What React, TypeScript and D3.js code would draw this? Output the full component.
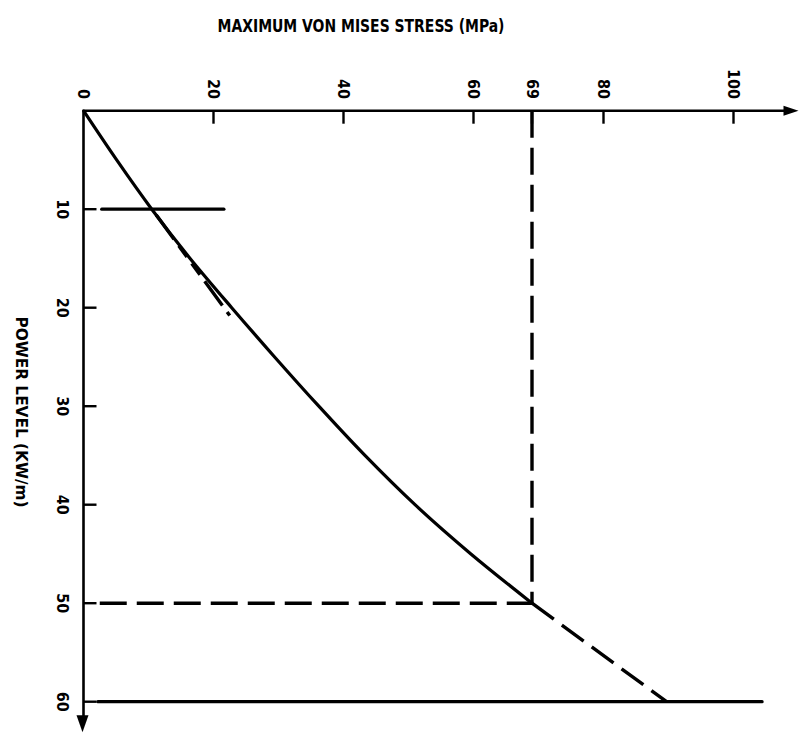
import React from "react";
import * as d3 from "d3";

// Solid curve: max von Mises stress (MPa) vs power level (kW/m)
const curvePower = [0, 5, 10, 15, 20, 25, 30, 35, 40, 45, 50];
const curveStress = [0, 5.1, 10.5, 16.4, 22.8, 29.4, 36.2, 43.3, 51.0, 59.6, 69.0];

// Short dashed line diverging from the curve
const earlyDashStress = [11.2, 22.5];
const earlyDashPower = [10.6, 20.8];

// Dashed extrapolation beyond 50 kW/m
const extrapStress = [69, 89.7];
const extrapPower = [50, 60];

// Reference lines
const limitStress = 69;
const limitPower = 50;
const limitPowerLineStress = [2.5, 69];
const line10Power = 10;
const line10Stress = [2.8, 21.6];
const line60Power = 60;
const line60Stress = [2.2, 104.4];

const xTicks = [0, 20, 40, 60, 69, 80, 100];
const yTicks = [10, 20, 30, 40, 50, 60];
const xAxisEnd = 110;
const yAxisEnd = 63.1;

const title = "MAXIMUM VON MISES  STRESS (MPa)";
const yTitle = "POWER LEVEL (KW/m)";

export default function App() {
  const x = d3.scaleLinear().domain([0, 100]).range([83.5, 733.5]);
  const y = d3.scaleLinear().domain([0, 60]).range([110.7, 701.7]);

  const line = d3
    .line<[number, number]>()
    .x((d) => x(d[0]))
    .y((d) => y(d[1]));
  const smooth = d3
    .line<[number, number]>()
    .x((d) => x(d[0]))
    .y((d) => y(d[1]))
    .curve(d3.curveCatmullRom.alpha(0.5));

  const curvePts: [number, number][] = curveStress.map((s, i) => [s, curvePower[i]]);
  const font = "'DejaVu Sans Condensed', 'DejaVu Sans', sans-serif";
  const x0 = x(0);
  const y0 = y(0);
  const xEnd = x(xAxisEnd);
  const yEnd = y(yAxisEnd);
  const dash = "27,10";

  return (
    <svg
      width={807}
      height={739}
      style={{ position: "absolute", left: 0, top: 0, background: "#fff" }}
    >
      <rect width={807} height={739} fill="#fff" />
      {/* title */}
      <text
        x={361}
        y={32}
        textAnchor="middle"
        fontFamily={font}
        fontWeight="bold"
        fontSize={17}
        textLength={287}
        lengthAdjust="spacingAndGlyphs"
        fill="#000"
      >
        {title}
      </text>
      {/* y title */}
      <text
        transform={`translate(21,412) rotate(90)`}
        textAnchor="middle"
        dominantBaseline="central"
        fontFamily={font}
        fontWeight="bold"
        fontSize={16}
        textLength={191}
        lengthAdjust="spacingAndGlyphs"
        fill="#000"
      >
        {yTitle}
      </text>

      {/* axes */}
      <g stroke="#000" strokeWidth={2.6} fill="none" strokeLinecap="round">
        <line x1={x0} y1={y0} x2={xEnd - 12} y2={y0} />
        <line x1={x0} y1={y0} x2={x0} y2={yEnd - 12} />
      </g>
      <path
        d={`M${xEnd},${y0} L${xEnd - 15},${y0 - 5} L${xEnd - 15},${y0 + 5} Z`}
        fill="#000"
      />
      <path
        d={`M${x0 - 1},${yEnd} L${x0 - 7},${yEnd - 17} L${x0 + 5},${yEnd - 17} Z`}
        fill="#000"
      />

      {/* x ticks */}
      {xTicks.map((t) => (
        <g key={"xt" + t}>
          {t !== 0 && (
            <line
              x1={x(t)}
              x2={x(t)}
              y1={y0}
              y2={y0 + 13}
              stroke="#000"
              strokeWidth={2.4}
            />
          )}
          <text
            transform={`translate(${x(t)},99) rotate(90)`}
            textAnchor="end"
            dominantBaseline="central"
            fontFamily={font}
            fontWeight="bold"
            fontSize={16}
            fill="#000"
          >
            {t}
          </text>
        </g>
      ))}
      {/* y ticks */}
      {yTicks.map((t) => (
        <g key={"yt" + t}>
          <line
            x1={x0}
            x2={x0 + 13}
            y1={y(t)}
            y2={y(t)}
            stroke="#000"
            strokeWidth={2.4}
          />
          <text
            transform={`translate(62,${y(t)}) rotate(90)`}
            textAnchor="middle"
            dominantBaseline="central"
            fontFamily={font}
            fontWeight="bold"
            fontSize={16}
            fill="#000"
          >
            {t}
          </text>
        </g>
      ))}

      {/* reference solid lines */}
      <g stroke="#000" strokeWidth={3.2} fill="none" strokeLinecap="round">
        <path d={line([[line10Stress[0], line10Power], [line10Stress[1], line10Power]]) || ""} />
        <path d={line([[line60Stress[0], line60Power], [line60Stress[1], line60Power]]) || ""} />
      </g>

      {/* dashed lines */}
      <g stroke="#000" strokeWidth={3.4} fill="none" strokeDasharray={dash}>
        <path d={line([[limitStress, 0], [limitStress, limitPower]]) || ""} />
        <path
          d={line([[limitPowerLineStress[0], limitPower], [limitPowerLineStress[1], limitPower]]) || ""}
        />
        <path d={line([[extrapStress[0], extrapPower[0]], [extrapStress[1], extrapPower[1]]]) || ""} />
        <path
          d={line([[earlyDashStress[0], earlyDashPower[0]], [earlyDashStress[1], earlyDashPower[1]]]) || ""}
          strokeDasharray="30,8,14,8,14,8"
        />
      </g>

      {/* main curve */}
      <path d={smooth(curvePts) || ""} stroke="#000" strokeWidth={3.2} fill="none" />
    </svg>
  );
}
